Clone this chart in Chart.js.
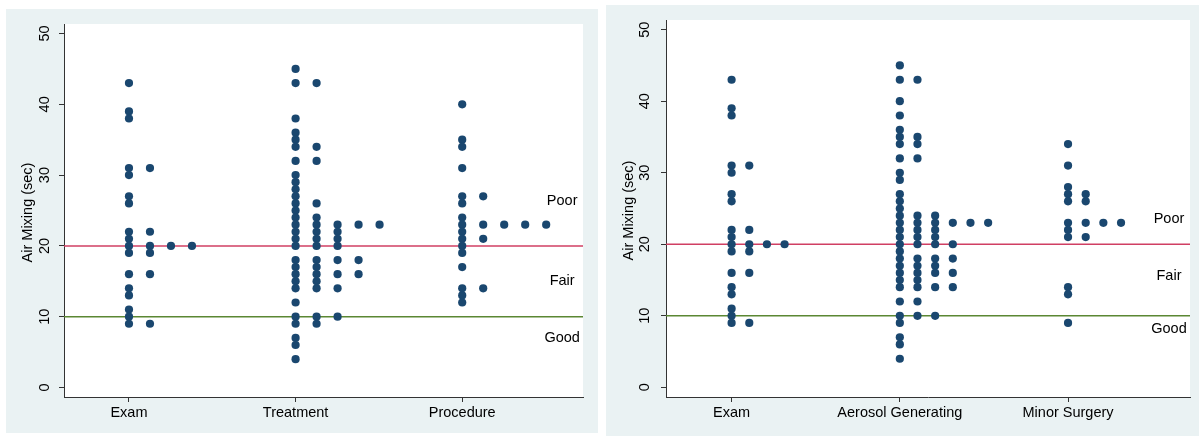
<!DOCTYPE html>
<html>
<head>
<meta charset="utf-8">
<script src="https://cdn.jsdelivr.net/npm/chart.js@4/dist/chart.umd.min.js"></script>
<style>
  html, body { margin: 0; padding: 0; background: #fff; }
  body { width: 1199px; height: 436px; position: relative; overflow: hidden; }
  .panel { position: absolute; background: #eaf2f3; }
  #panel-left { left: 6px; top: 9px; width: 592px; height: 424px; }
  #panel-right { left: 606px; top: 5px; width: 593px; height: 431px; }
</style>
</head>
<body>
<div class="panel" id="panel-left"><canvas id="chart-left"></canvas></div>
<div class="panel" id="panel-right"><canvas id="chart-right"></canvas></div>

<script>
// values (air mixing time in seconds, one entry per room)
const exam = [43, 39, 38, 31, 31, 30, 27, 26, 22, 22, 21, 20, 20, 20, 20, 19, 19, 16, 16, 14, 13, 11, 10, 9, 9];
const treatment = [45, 43, 43, 38, 36, 35, 34, 34, 32, 32, 30, 29, 28, 27, 26, 26, 25, 24, 24,
    23, 23, 23, 23, 23, 22, 22, 22, 21, 21, 21, 20, 20, 20, 18, 18, 18, 18, 17, 17,
    16, 16, 16, 16, 15, 15, 14, 14, 14, 12, 10, 10, 10, 9, 9, 7, 6, 4];
const procedure = [40, 35, 34, 31, 27, 27, 26, 24, 23, 23, 23, 23, 23, 22, 21, 21, 20, 19, 17, 14, 14, 13, 12];
const aerosolGenerating = [45, 43, 43, 40, 38, 36, 35, 35, 34, 34, 32, 32, 30, 29, 27, 26, 25,
    24, 24, 24, 23, 23, 23, 23, 23, 23, 22, 22, 22, 21, 21, 21, 20, 20, 20, 20, 19,
    18, 18, 18, 18, 17, 17, 17, 16, 16, 16, 16, 15, 15, 14, 14, 14, 14, 12, 12,
    10, 10, 10, 9, 7, 6, 4];
const minorSurgery = [34, 31, 28, 27, 27, 26, 26, 23, 23, 23, 23, 22, 21, 21, 14, 13, 9];

const leftCategories = ["Exam", "Treatment", "Procedure"];
const rightCategories = ["Exam", "Aerosol Generating", "Minor Surgery"];

const yTicks = [0, 10, 20, 30, 40, 50];
const yTitle = "Air Mixing (sec)";
const thresholds = [20, 10]; // poor / fair cut-off, fair / good cut-off
const ratingLabels = ["Poor", "Fair", "Good"];
const leftRatingY = [26.3, 15, 7];
const rightRatingY = [23.5, 15.6, 8.2];

const FONT = "'Liberation Sans', Arial, sans-serif";
const DOT = "#1a476f";
const LINE_COLORS = ["#d03f63", "#5b8733"];

// stata-style dotplot: repeated values are laid out side by side to the right
function dotPoints(groups, step) {
    const pts = [];
    groups.forEach((vals, i) => {
        const seen = {};
        vals.forEach(v => {
            const k = seen[v] || 0;
            seen[v] = k + 1;
            pts.push({ x: i + 1 + k * step, y: v });
        });
    });
    return pts;
}

const decorPlugin = {
    id: "decor",
    beforeDraw(chart) {
        const { ctx, chartArea } = chart;
        ctx.save();
        ctx.fillStyle = "#fff";
        ctx.fillRect(chartArea.left, chartArea.top, chartArea.right - chartArea.left, chartArea.bottom - chartArea.top);
        ctx.restore();
    },
    beforeDatasetsDraw(chart) {
        const { ctx, chartArea, scales } = chart;
        ctx.save();
        thresholds.forEach((t, i) => {
            const y = scales.y.getPixelForValue(t);
            ctx.strokeStyle = LINE_COLORS[i];
            ctx.lineWidth = 1.5;
            ctx.beginPath();
            ctx.moveTo(chartArea.left, y);
            ctx.lineTo(chartArea.right, y);
            ctx.stroke();
        });
        ctx.restore();
    },
    afterDraw(chart, args, opts) {
        const { ctx, chartArea, scales } = chart;
        ctx.save();
        ctx.fillStyle = "#000";
        ctx.font = "14.5px " + FONT;
        ctx.textAlign = "center";
        ctx.textBaseline = "middle";

        // rotated y tick labels
        yTicks.forEach(v => {
            ctx.save();
            ctx.translate(chartArea.left - opts.tickOffset, scales.y.getPixelForValue(v));
            ctx.rotate(-Math.PI / 2);
            ctx.fillText(String(v), 0, 0);
            ctx.restore();
        });

        // y axis title
        ctx.save();
        ctx.translate(chartArea.left - opts.titleOffset, (chartArea.top + chartArea.bottom) / 2 + 2);
        ctx.rotate(-Math.PI / 2);
        ctx.fillText(yTitle, 0, 0);
        ctx.restore();

        // rating text next to the cut-off lines
        ratingLabels.forEach((label, i) => {
            ctx.fillText(label, scales.x.getPixelForValue(3.6), scales.y.getPixelForValue(opts.ratingY[i]));
        });
        ctx.restore();
    }
};

function makeChart(canvasId, categories, groups, step, layout) {
    const ctx = document.getElementById(canvasId).getContext("2d");
    return new Chart(ctx, {
        type: "scatter",
        data: {
            datasets: [{
                data: dotPoints(groups, step),
                backgroundColor: DOT,
                borderWidth: 0,
                pointRadius: 4.1,
                pointHoverRadius: 4.1
            }]
        },
        options: {
            responsive: true,
            maintainAspectRatio: false,
            animation: false,
            events: [],
            layout: { padding: { left: 0, right: layout.padRight, top: 15, bottom: 0 } },
            plugins: {
                legend: { display: false },
                tooltip: { enabled: false },
                decor: { tickOffset: layout.tickOffset, titleOffset: layout.titleOffset, ratingY: layout.ratingY }
            },
            scales: {
                x: {
                    type: "linear",
                    min: 0.61,
                    max: 3.725,
                    afterBuildTicks: scale => { scale.ticks = categories.map((c, i) => ({ value: i + 1 })); },
                    afterFit: scale => { scale.height = layout.xHeight; },
                    ticks: {
                        autoSkip: false,
                        maxRotation: 0,
                        padding: 2,
                        color: "#000",
                        font: { family: FONT, size: 14.5 },
                        callback: value => categories[value - 1]
                    },
                    grid: { drawOnChartArea: false, drawTicks: true, tickLength: 5, color: "#333" },
                    border: { display: true, color: "#333", width: 1 }
                },
                y: {
                    type: "linear",
                    min: -1.35,
                    max: 51.35,
                    afterBuildTicks: scale => { scale.ticks = yTicks.map(v => ({ value: v })); },
                    afterFit: scale => { scale.width = layout.yWidth; },
                    ticks: { display: false },
                    grid: { drawOnChartArea: false, drawTicks: true, tickLength: 5, color: "#333" },
                    border: { display: true, color: "#333", width: 1 }
                }
            }
        },
        plugins: [decorPlugin]
    });
}

makeChart("chart-left", leftCategories, [exam, treatment, procedure], 0.126, {
    padRight: 15, xHeight: 36, yWidth: 58, tickOffset: 19.5, titleOffset: 36, ratingY: leftRatingY
});
makeChart("chart-right", rightCategories, [exam, aerosolGenerating, minorSurgery], 0.105, {
    padRight: 9, xHeight: 39, yWidth: 60, tickOffset: 21.5, titleOffset: 37.5, ratingY: rightRatingY
});
</script>
</body>
</html>
